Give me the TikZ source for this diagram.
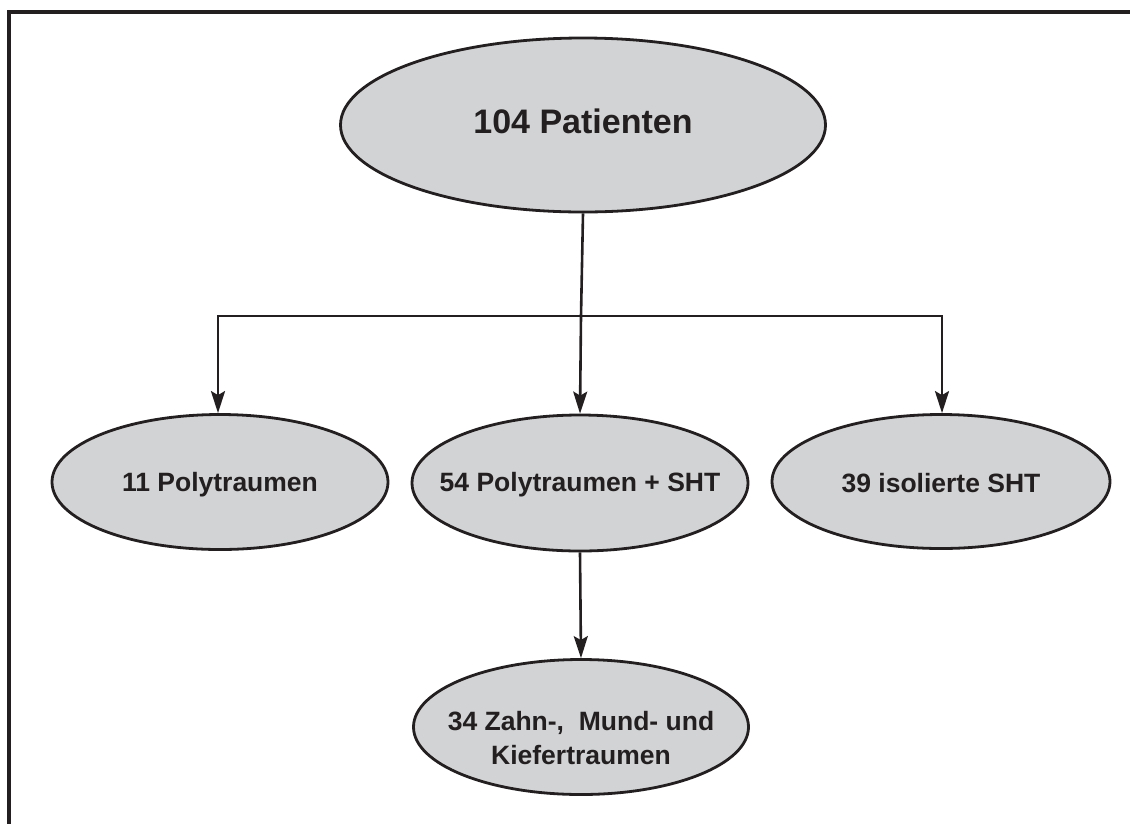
\documentclass[tikz,border=0pt]{standalone}
\usepackage{fontspec}
\setmainfont{Liberation Sans}
\usetikzlibrary{shapes.geometric,arrows.meta}
\definecolor{ink}{HTML}{231F20}
\definecolor{bubblefill}{HTML}{D1D3D4}
\newcommand{\bltext}[2]{\makebox[0pt]{\raisebox{-#1}[0pt][0pt]{#2}}}
\tikzset{
  bubble/.style={ellipse, draw=ink, line width=2.8pt, fill=bubblefill, inner sep=0pt, text=ink, font=\bfseries\fontsize{26.5}{34}\selectfont},
  conn/.style={draw=ink, line width=2.6pt},
  arr/.style={conn, -{Stealth[length=22pt, width=14pt, inset=4pt]}},
}
\begin{document}
\begin{tikzpicture}[x=1pt, y=-1pt]
\clip (0,0) rectangle (1130,823);
\draw[ink, line width=3.2pt] (9,12) rectangle (1150,850);
\node[bubble, minimum width=485pt, minimum height=174pt, font=\bfseries\fontsize{34}{40}\selectfont] (top) at (583,125) {\bltext{8pt}{104 Patienten}};
\node[bubble, minimum width=336pt, minimum height=135pt] (left) at (220,482) {\bltext{9pt}{11 Polytraumen}};
\node[bubble, minimum width=336pt, minimum height=136pt] (mid) at (580,483) {\bltext{8pt}{54 Polytraumen + SHT}};
\node[bubble, minimum width=338pt, minimum height=134pt] (right) at (941,481.5) {\bltext{11pt}{39 isolierte SHT}};
\node[bubble, minimum width=335pt, minimum height=135pt] (bot) at (581,727) {\bltext{3pt}{\begin{tabular}[t]{@{}c@{}}34 Zahn-,\ \ Mund- und\\Kiefertraumen\end{tabular}}};
\coordinate (split) at (581,316);
\coordinate (splitL) at (218,316);
\coordinate (splitR) at (942,316);
\draw[conn] (top.south) -- (split);
\draw[conn, line cap=rect] (splitL) -- (splitR);
\draw[arr] (splitL) -- (left.north -| splitL);
\draw[arr] (split) -- (mid.north);
\draw[arr] (splitR) -- (right.north -| splitR);
\draw[arr] (mid.south) -- (bot.north);
\end{tikzpicture}
\end{document}
